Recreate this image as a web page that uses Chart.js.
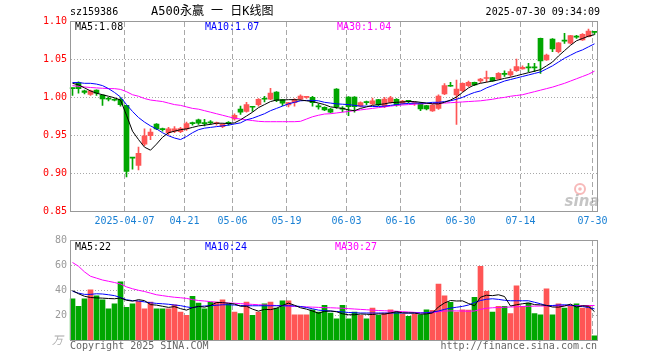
<!DOCTYPE html>
<html>
<head>
<meta charset="utf-8">
<script src="https://cdn.jsdelivr.net/npm/chart.js@4.4.1/dist/chart.umd.min.js"></script>
<style>
  html, body { margin: 0; padding: 0; background: #fff; }
  #wrap { position: relative; width: 660px; height: 360px; overflow: hidden; }
  #priceChart { position: absolute; left: 0; top: 0; }
  #volChart   { position: absolute; left: 0; top: 230px; }
</style>
</head>
<body>
<div id="wrap">
  <canvas id="priceChart" width="660" height="230"></canvas>
  <canvas id="volChart" width="660" height="130"></canvas>
</div>
<script>
'use strict';

// ---------------------------------------------------------------------------
// Data
// ---------------------------------------------------------------------------

const dates = [
  '2025-03-24','2025-03-25','2025-03-26','2025-03-27','2025-03-28',
  '2025-03-31','2025-04-01','2025-04-02','2025-04-03',
  '2025-04-07','2025-04-08','2025-04-09','2025-04-10','2025-04-11',
  '2025-04-14','2025-04-15','2025-04-16','2025-04-17','2025-04-18',
  '2025-04-21','2025-04-22','2025-04-23','2025-04-24','2025-04-25',
  '2025-04-28','2025-04-29','2025-04-30',
  '2025-05-06','2025-05-07','2025-05-08','2025-05-09',
  '2025-05-12','2025-05-13','2025-05-14','2025-05-15','2025-05-16',
  '2025-05-19','2025-05-20','2025-05-21','2025-05-22','2025-05-23',
  '2025-05-26','2025-05-27','2025-05-28','2025-05-29','2025-05-30',
  '2025-06-03','2025-06-04','2025-06-05','2025-06-06',
  '2025-06-09','2025-06-10','2025-06-11','2025-06-12','2025-06-13',
  '2025-06-16','2025-06-17','2025-06-18','2025-06-19','2025-06-20',
  '2025-06-23','2025-06-24','2025-06-25','2025-06-26','2025-06-27',
  '2025-06-30','2025-07-01','2025-07-02','2025-07-03','2025-07-04',
  '2025-07-07','2025-07-08','2025-07-09','2025-07-10','2025-07-11',
  '2025-07-14','2025-07-15','2025-07-16','2025-07-17','2025-07-18',
  '2025-07-21','2025-07-22','2025-07-23','2025-07-24','2025-07-25',
  '2025-07-28','2025-07-29','2025-07-30',
];

const open = [
  1.012, 1.019, 1.008, 1.0035, 1.009, 1.0025, 0.998, 0.9965, 0.997, 0.989,
  0.9205, 0.910, 0.938, 0.949, 0.9645, 0.958, 0.953, 0.955, 0.9545, 0.958,
  0.966, 0.970, 0.966, 0.967, 0.965, 0.961, 0.966, 0.971, 0.984, 0.981,
  0.987, 0.990, 0.998, 0.997, 1.0065, 0.9965, 0.9895, 0.9925, 0.997, 0.9995,
  0.9996, 0.988, 0.9865, 0.984, 1.0105, 0.9845, 1.000, 1.000, 0.988, 0.993,
  0.991, 0.9965, 0.9873, 0.993, 0.997, 0.9917, 0.9946, 0.9915, 0.9917, 0.9886,
  0.9816, 0.985, 1.004, 1.0147, 1.0026, 1.0083, 1.0149, 1.0193, 1.021, 1.0244,
  1.0254, 1.0237, 1.0302, 1.029, 1.0346, 1.037, 1.0388, 1.0388, 1.0772, 1.0487,
  1.0763, 1.0596, 1.074, 1.0707, 1.0792, 1.075, 1.0793, 1.0852,
];
const high = [
  1.012, 1.020, 1.009, 1.009, 1.0095, 1.003, 0.9995, 0.998, 0.999, 0.989,
  0.9205, 0.934, 0.958, 0.958, 0.965, 0.959, 0.960, 0.961, 0.960, 0.967,
  0.967, 0.971, 0.9705, 0.969, 0.967, 0.965, 0.9675, 0.978, 0.988, 0.993,
  0.987, 0.998, 1.001, 1.0115, 1.007, 0.997, 0.993, 0.998, 1.003, 1.001,
  1.001, 0.991, 0.987, 0.985, 1.011, 0.9875, 1.0005, 1.0005, 0.9935, 0.9945,
  0.9985, 0.997, 0.9995, 1.001, 0.998, 0.9955, 0.9955, 0.9935, 0.993, 0.989,
  0.990, 1.003, 1.0175, 1.0193, 1.0224, 1.0185, 1.021, 1.0195, 1.0245, 1.0342,
  1.0258, 1.032, 1.0345, 1.0367, 1.050, 1.041, 1.0443, 1.0443, 1.0775, 1.0565,
  1.0768, 1.0716, 1.0838, 1.0812, 1.0812, 1.0835, 1.0895, 1.0855,
];
const low = [
  1.002, 1.005, 1.004, 1.002, 1.002, 0.989, 0.995, 0.995, 0.988, 0.895,
  0.905, 0.904, 0.936, 0.944, 0.957, 0.955, 0.950, 0.953, 0.953, 0.956,
  0.963, 0.964, 0.962, 0.964, 0.963, 0.9595, 0.963, 0.9695, 0.977, 0.980,
  0.981, 0.988, 0.9935, 0.9965, 0.994, 0.9886, 0.987, 0.988, 0.996, 0.998,
  0.988, 0.984, 0.982, 0.979, 0.985, 0.9805, 0.9754, 0.980, 0.987, 0.990,
  0.990, 0.9885, 0.986, 0.992, 0.988, 0.9905, 0.9925, 0.989, 0.982, 0.983,
  0.981, 0.9838, 1.003, 1.0138, 0.964, 1.007, 1.0135, 1.015, 1.019, 1.020,
  1.0205, 1.023, 1.027, 1.027, 1.0335, 1.0365, 1.0333, 1.0333, 1.031, 1.048,
  1.0595, 1.058, 1.0705, 1.070, 1.077, 1.0745, 1.079, 1.0825,
];
const close = [
  1.011, 1.011, 1.006, 1.008, 1.005, 0.9975, 0.997, 0.9957, 0.990, 0.902,
  0.9195, 0.926, 0.949, 0.954, 0.958, 0.957, 0.958, 0.958, 0.9585, 0.965,
  0.965, 0.9655, 0.965, 0.966, 0.966, 0.964, 0.9655, 0.976, 0.980, 0.990,
  0.9865, 0.997, 0.997, 1.005, 0.9955, 0.992, 0.9925, 0.997, 1.0013, 1.0003,
  0.9925, 0.987, 0.983, 0.980, 0.9873, 0.984, 0.9873, 0.9873, 0.9925, 0.9925,
  0.995, 0.9895, 0.9974, 0.999, 0.9895, 0.9947, 0.9943, 0.9925, 0.9842, 0.9842,
  0.9895, 1.0013, 1.0149, 1.0142, 1.0105, 1.018, 1.0193, 1.0158, 1.0237, 1.0248,
  1.021, 1.0312, 1.0298, 1.0333, 1.040, 1.0392, 1.0384, 1.0384, 1.0474, 1.0553,
  1.0632, 1.0714, 1.0736, 1.0807, 1.0788, 1.0825, 1.0868, 1.0850,
];

const ma5 = [
  1.018, 1.016, 1.012, 1.008, 1.005, 1.003, 1.001, 0.999, 0.996, 0.976,
  0.955, 0.944, 0.934, 0.930, 0.938, 0.947, 0.953, 0.955, 0.957, 0.958,
  0.960, 0.962, 0.963, 0.964, 0.9655, 0.9655, 0.965, 0.966, 0.970, 0.975,
  0.980, 0.986, 0.990, 0.994, 0.996, 0.996, 0.9965, 0.9965, 0.996, 0.995,
  0.994, 0.992, 0.990, 0.987, 0.986, 0.985, 0.983, 0.982, 0.985, 0.987,
  0.989, 0.990, 0.991, 0.9925, 0.993, 0.9935, 0.994, 0.994, 0.993, 0.992,
  0.991, 0.991, 0.993, 0.996, 1.000, 1.006, 1.012, 1.016, 1.018, 1.0195,
  1.021, 1.0225, 1.0245, 1.026, 1.028, 1.030, 1.032, 1.034, 1.036, 1.041,
  1.046, 1.054, 1.061, 1.068, 1.074, 1.077, 1.080, 1.082,
];
const ma10 = [
  1.019, 1.019, 1.018, 1.018, 1.017, 1.015, 1.011, 1.006, 1.000, 0.990,
  0.981, 0.973, 0.967, 0.962, 0.958, 0.953, 0.949, 0.946, 0.944, 0.948,
  0.953, 0.957, 0.959, 0.960, 0.961, 0.962, 0.963, 0.9645, 0.966, 0.970,
  0.972, 0.975, 0.978, 0.982, 0.985, 0.988, 0.991, 0.993, 0.995, 0.9955,
  0.9955, 0.995, 0.993, 0.992, 0.991, 0.9905, 0.990, 0.989, 0.988, 0.988,
  0.9875, 0.9875, 0.988, 0.989, 0.990, 0.991, 0.9915, 0.992, 0.992, 0.992,
  0.993, 0.993, 0.994, 0.995, 0.997, 0.9995, 1.003, 1.006, 1.008, 1.012,
  1.015, 1.018, 1.021, 1.023, 1.025, 1.027, 1.029, 1.031, 1.033, 1.037,
  1.041, 1.046, 1.051, 1.055, 1.059, 1.062, 1.066, 1.070,
];
const ma30 = [
  1.015, 1.014, 1.0132, 1.0125, 1.012, 1.0115, 1.011, 1.011, 1.010, 1.007,
  1.003, 1.001, 0.998, 0.996, 0.995, 0.994, 0.992, 0.990, 0.989, 0.987,
  0.985, 0.984, 0.982, 0.980, 0.978, 0.976, 0.974, 0.972, 0.971, 0.970,
  0.969, 0.968, 0.9675, 0.9675, 0.9675, 0.9675, 0.9675, 0.9675, 0.968, 0.971,
  0.974, 0.976, 0.9776, 0.978, 0.979, 0.980, 0.981, 0.982, 0.983, 0.984,
  0.985, 0.986, 0.987, 0.988, 0.989, 0.9895, 0.990, 0.9905, 0.991, 0.9913,
  0.9915, 0.9917, 0.992, 0.9925, 0.993, 0.9935, 0.994, 0.9945, 0.995, 0.996,
  0.997, 0.9985, 0.9995, 1.001, 1.002, 1.003, 1.005, 1.007, 1.009, 1.011,
  1.013, 1.0155, 1.018, 1.021, 1.024, 1.027, 1.030, 1.034,
];

// volume, 万
const volume = [
  33.0, 26.9, 33.0, 40.2, 35.4, 32.2, 25.0, 29.0, 46.6, 26.1,
  29.0, 30.9, 25.0, 30.3, 25.0, 25.0, 25.0, 28.2, 22.4, 19.7,
  34.9, 29.6, 25.0, 30.3, 30.3, 32.2, 29.0, 22.4, 21.1, 30.3,
  19.7, 22.4, 29.0, 30.3, 25.6, 31.4, 31.4, 20.2, 20.2, 20.2,
  24.2, 22.4, 27.7, 21.6, 17.0, 27.7, 17.0, 22.4, 19.7, 17.0,
  25.6, 19.7, 21.6, 24.2, 22.4, 20.8, 18.9, 20.8, 20.2, 24.2,
  23.7, 44.8, 35.4, 30.1, 22.4, 24.2, 24.0, 34.1, 58.9, 38.9,
  22.4, 26.9, 26.9, 21.1, 43.4, 26.9, 29.6, 21.1, 20.2, 41.0,
  20.2, 29.0, 25.6, 27.7, 29.0, 25.6, 27.7, 3.4,
];
const volMa5 = [
  39.5, 37.0, 35.0, 34.0, 33.7, 33.5, 33.2, 33.0, 33.6, 31.8,
  31.1, 32.3, 31.5, 28.3, 27.9, 27.0, 26.1, 26.7, 25.1, 23.9,
  25.9, 26.9, 26.3, 27.6, 30.0, 29.9, 29.4, 28.8, 27.0, 27.0,
  24.7, 23.1, 24.5, 24.3, 25.4, 27.7, 29.5, 27.8, 25.8, 24.7,
  23.2, 21.4, 22.9, 23.2, 22.6, 21.0, 20.2, 20.2, 20.8, 20.6,
  20.4, 20.9, 20.7, 21.6, 22.7, 21.7, 21.6, 21.6, 20.6, 20.9,
  21.6, 26.5, 29.6, 31.6, 31.2, 31.3, 29.2, 27.4, 34.2, 35.8,
  35.5, 36.2, 34.8, 27.2, 28.2, 29.0, 29.6, 28.3, 28.1, 27.7,
  26.4, 26.3, 27.2, 28.7, 26.3, 27.4, 27.0, 22.7,
];
const volMa10 = [
  39.0, 37.5, 36.5, 36.5, 37.0, 36.8, 36.2, 35.5, 34.0, 32.2,
  31.5, 31.2, 30.5, 29.8, 29.3, 29.0, 28.6, 28.0, 27.5, 26.5,
  25.8, 26.8, 27.2, 27.5, 27.8, 28.2, 28.2, 28.0, 27.6, 27.4,
  27.4, 27.4, 27.4, 27.4, 27.4, 27.4, 27.4, 27.3, 26.8, 26.0,
  25.0, 23.9, 23.5, 23.2, 22.8, 22.5, 22.0, 21.8, 21.6, 21.6,
  21.6, 21.6, 21.6, 21.6, 21.6, 21.6, 21.6, 21.6, 21.6, 21.8,
  22.4, 23.2, 24.5, 25.5, 26.2, 26.9, 28.0, 30.0, 31.6, 32.6,
  33.0, 32.5, 31.8, 31.4, 31.4, 31.4, 31.4, 30.2, 29.0, 27.5,
  27.6, 28.0, 28.2, 27.8, 27.2, 26.8, 26.0, 24.9,
];
const volMa30 = [
  62.0, 59.0, 54.5, 51.0, 49.5, 48.0, 47.0, 46.0, 44.8, 42.5,
  41.0, 39.8, 38.8, 37.5, 36.2, 35.5, 34.8, 34.2, 33.8, 33.3,
  32.3, 31.6, 31.2, 30.7, 30.2, 29.8, 29.6, 29.4, 29.1, 28.8,
  28.5, 28.2, 28.0, 27.8, 27.6, 27.4, 27.1, 26.9, 26.7, 26.5,
  26.3, 26.1, 25.9, 25.8, 25.6, 25.4, 25.1, 24.8, 24.5, 24.2,
  23.9, 23.6, 23.4, 23.2, 23.0, 22.7, 22.4, 22.1, 21.8, 21.6,
  21.8, 22.7, 23.2, 23.3, 23.3, 23.2, 23.0, 23.2, 24.5, 25.4,
  25.8, 26.0, 26.2, 26.4, 26.6, 26.8, 27.0, 27.1, 27.2, 27.3,
  27.3, 27.4, 27.4, 27.5, 27.5, 27.5, 27.6, 27.6,
];

const priceTicks = [1.10, 1.05, 1.00, 0.95, 0.90, 0.85];
const volTicks   = [80, 60, 40, 20];
const tickDates  = ['2025-04-07','2025-04-21','2025-05-06','2025-05-19','2025-06-03',
                    '2025-06-16','2025-06-30','2025-07-14','2025-07-30'];
const tickLabels = ['2025-04-07','04-21','05-06','05-19','06-03','06-16','06-30','07-14','07-30'];

// ---------------------------------------------------------------------------
// Styles / helpers
// ---------------------------------------------------------------------------

const UP    = '#ff5555';
const DOWN  = '#00a600';
const MONO  = '10px "DejaVu Sans Mono", monospace';
const GRID  = '#a8a8a8';
const FRAME = '#999999';

const candleColor = close.map((c, i) => (c >= open[i] ? UP : DOWN));

function txt(ctx, s, x, y, color, align = 'left', font = MONO) {
  ctx.font = font;
  ctx.fillStyle = color;
  ctx.textAlign = align;
  ctx.textBaseline = 'middle';
  ctx.fillText(s, x, y);
}

function hline(ctx, x0, x1, y) {
  ctx.beginPath(); ctx.moveTo(x0, y); ctx.lineTo(x1, y); ctx.stroke();
}
function vline(ctx, x, y0, y1) {
  ctx.beginPath(); ctx.moveTo(x, y0); ctx.lineTo(x, y1); ctx.stroke();
}

// shared grid: dotted horizontals + dashed verticals at the date ticks
function drawGrid(chart, values) {
  const { ctx, chartArea: a, scales: { x, y } } = chart;
  ctx.save();
  ctx.strokeStyle = GRID;
  ctx.lineWidth = 1;
  ctx.setLineDash([1, 2]);
  values.forEach(v => {
    const py = Math.floor(y.getPixelForValue(v)) + 0.5;
    if (py > a.top + 2 && py < a.bottom - 2) hline(ctx, 71, 597, py);
  });
  ctx.setLineDash([5, 3]);
  tickDates.forEach(d => {
    const px = Math.floor(x.getPixelForValue(dates.indexOf(d)) - 2) + 0.5;
    vline(ctx, px, a.top + 1, a.bottom);
  });
  ctx.restore();
}

function drawFrame(chart) {
  const { ctx, chartArea: a } = chart;
  ctx.save();
  ctx.strokeStyle = FRAME;
  ctx.lineWidth = 1;
  ctx.setLineDash([]);
  ctx.strokeRect(70.5, Math.round(a.top) + 0.5, 527, Math.round(a.bottom - a.top));
  ctx.restore();
}

function line(label, data, color, order = 0) {
  return {
    type: 'line', label, data,
    borderColor: color, borderWidth: 1,
    pointRadius: 0, tension: 0, fill: false, order,
  };
}

// ---------------------------------------------------------------------------
// Price panel
// ---------------------------------------------------------------------------

const pricePanel = {
  id: 'pricePanel',
  beforeDatasetsDraw(chart) { drawGrid(chart, priceTicks); },
  afterDraw(chart) {
    const { ctx, scales: { x, y } } = chart;
    drawFrame(chart);

    // header
    txt(ctx, 'sz159386', 70, 12, '#000');
    txt(ctx, 'A500永赢 一 日K线图', 151, 12, '#000', 'left',
        '12px "DejaVu Sans Mono", "Noto Sans CJK SC", monospace');
    txt(ctx, '2025-07-30 09:34:09', 600, 12, '#000', 'right');

    // MA legend
    txt(ctx, 'MA5:1.08', 75, 27, '#000');
    txt(ctx, 'MA10:1.07', 205, 27, '#0000ff');
    txt(ctx, 'MA30:1.04', 337, 27, '#ff00ff');

    // y labels
    priceTicks.forEach(v => txt(ctx, v.toFixed(2), 67, y.getPixelForValue(v), '#ff0000', 'right'));

    // date labels
    tickDates.forEach((d, k) => {
      const px = x.getPixelForValue(dates.indexOf(d)) - 2;
      txt(ctx, tickLabels[k], px, 221, '#1a80d4', 'center');
    });

    // sina watermark
    ctx.save();
    ctx.globalAlpha = 0.55;
    ctx.strokeStyle = '#f08080';
    ctx.lineWidth = 2;
    ctx.beginPath(); ctx.arc(580, 189, 5, 0, Math.PI * 2); ctx.stroke();
    ctx.fillStyle = '#f08080';
    ctx.beginPath(); ctx.arc(580, 189, 1.8, 0, Math.PI * 2); ctx.fill();
    ctx.restore();
    txt(ctx, 'sina', 582, 202, 'rgba(150,150,150,0.55)', 'center',
        'italic bold 15px "DejaVu Sans", sans-serif');
  },
};

new Chart(document.getElementById('priceChart'), {
  type: 'bar',
  data: {
    labels: dates,
    datasets: [
      line('MA5',  ma5,  '#000000'),
      line('MA10', ma10, '#0000ff'),
      line('MA30', ma30, '#ff00ff'),
      {
        label: 'body',
        data: open.map((o, i) => [o, close[i]]),
        backgroundColor: candleColor,
        barThickness: 5, grouped: false, minBarLength: 1, borderWidth: 0, order: 1,
      },
      {
        label: 'wick',
        data: low.map((l, i) => [l, high[i]]),
        backgroundColor: candleColor,
        barThickness: 1, grouped: false, minBarLength: 1, borderWidth: 0, order: 2,
      },
    ],
  },
  options: {
    responsive: false,
    animation: false,
    layout: { padding: { left: 69.5, right: 62.5, top: 21, bottom: 19 } },
    plugins: { legend: { display: false }, tooltip: { enabled: false } },
    scales: {
      x: { display: false, offset: true },
      y: { display: false, min: 0.85, max: 1.10 },
    },
  },
  plugins: [pricePanel],
});

// ---------------------------------------------------------------------------
// Volume panel
// ---------------------------------------------------------------------------

const volPanel = {
  id: 'volPanel',
  beforeDatasetsDraw(chart) { drawGrid(chart, volTicks); },
  afterDraw(chart) {
    const { ctx, scales: { y } } = chart;
    drawFrame(chart);

    txt(ctx, 'MA5:22', 75, 17, '#000');
    txt(ctx, 'MA10:24', 205, 17, '#0000ff');
    txt(ctx, 'MA30:27', 335, 17, '#ff00ff');

    volTicks.forEach(v => txt(ctx, String(v), 67, y.getPixelForValue(v), '#999999', 'right'));
    txt(ctx, '万', 63, 110, '#aaaaaa', 'right', 'italic 11px "Noto Sans CJK SC", sans-serif');

    txt(ctx, 'Copyright 2025 SINA.COM', 70, 116, '#666666');
    txt(ctx, 'http://finance.sina.com.cn', 597, 116, '#666666', 'right');
  },
};

new Chart(document.getElementById('volChart'), {
  type: 'bar',
  data: {
    labels: dates,
    datasets: [
      line('MA5',  volMa5,  '#000000'),
      line('MA10', volMa10, '#0000ff'),
      line('MA30', volMa30, '#ff00ff'),
      {
        label: 'volume',
        data: volume,
        backgroundColor: candleColor,
        barThickness: 5, grouped: false, borderWidth: 0, order: 1,
      },
    ],
  },
  options: {
    responsive: false,
    animation: false,
    layout: { padding: { left: 69.5, right: 62.5, top: 10, bottom: 20 } },
    plugins: { legend: { display: false }, tooltip: { enabled: false } },
    scales: {
      x: { display: false, offset: true },
      y: { display: false, min: 0, max: 80 },
    },
  },
  plugins: [volPanel],
});
</script>
</body>
</html>
